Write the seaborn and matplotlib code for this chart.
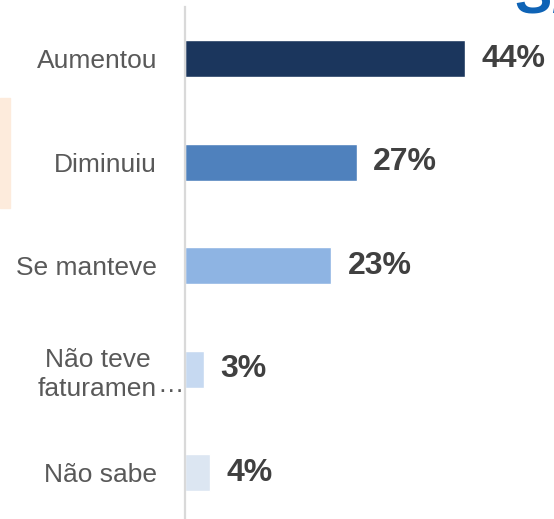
import pandas as pd
import matplotlib.pyplot as plt
import matplotlib.patches as mpatches
import seaborn as sns

# dados
categorias = ["Aumentou", "Diminuiu", "Se manteve", "Não teve\nfaturamen", "Não sabe"]
percentuais = [44, 27, 23, 3, 4]
cores = ["#1B365D", "#4F81BD", "#8EB4E3", "#C6D9F1", "#DCE6F2"]

sns.set_theme(style="white")
plt.rcParams["font.family"] = ["Liberation Sans", "DejaVu Sans"]

W, H = 554, 519


def main():
    df = pd.DataFrame({"cat": categorias, "pct": percentuais})

    fig = plt.figure(figsize=(W / 100, H / 100), dpi=100)
    # faixa laranja clara na borda esquerda
    fig.patches.append(mpatches.Rectangle((0, 1 - 208 / H), 10 / W, 110 / H,
                                          transform=fig.transFigure, color="#FDEBDC",
                                          zorder=0))
    ax = fig.add_axes([185 / W, 0, 318 / W, 1 - 7 / H])

    sns.barplot(data=df, x="pct", y="cat", hue="cat", palette=cores, legend=False,
                orient="h", width=0.357, saturation=1, ax=ax)

    ax.set_xlim(0, 50)
    ax.set_ylim(4.444, -0.497)
    ax.set_xlabel("")
    ax.set_ylabel("")
    ax.set_xticks([])
    for s in ["top", "right", "bottom"]:
        ax.spines[s].set_visible(False)
    ax.spines["left"].set_color("#D9D9D9")
    ax.spines["left"].set_linewidth(1.6)
    ax.tick_params(axis="y", length=0, pad=20, labelsize=19, labelcolor="#595959")
    for lab in ax.get_yticklabels():
        lab.set_multialignment("center")
        lab.set_linespacing(1.25)

    # rótulos de valor
    for i, v in enumerate(percentuais):
        ax.text(v + 2.6, i, f"{v}%", va="center", ha="left", fontsize=23,
                fontweight="bold", color="#404040")

    # reticências do rótulo truncado
    lab = ax.get_yticklabels()[3]
    ax.annotate("…", xy=(1, 0.06), xycoords=lab, ha="left", va="bottom",
                fontsize=19, color="#595959")

    # fragmento do logotipo cortado no topo
    fig.text(515 / W, 1 - 13 / H, "SEBRAE", fontsize=40, fontweight="bold",
             fontstyle="italic", color="#0E63B6", ha="left", va="baseline")

    fig.savefig("out.png", dpi=100)
    plt.close(fig)


if __name__ == "__main__":
    main()
